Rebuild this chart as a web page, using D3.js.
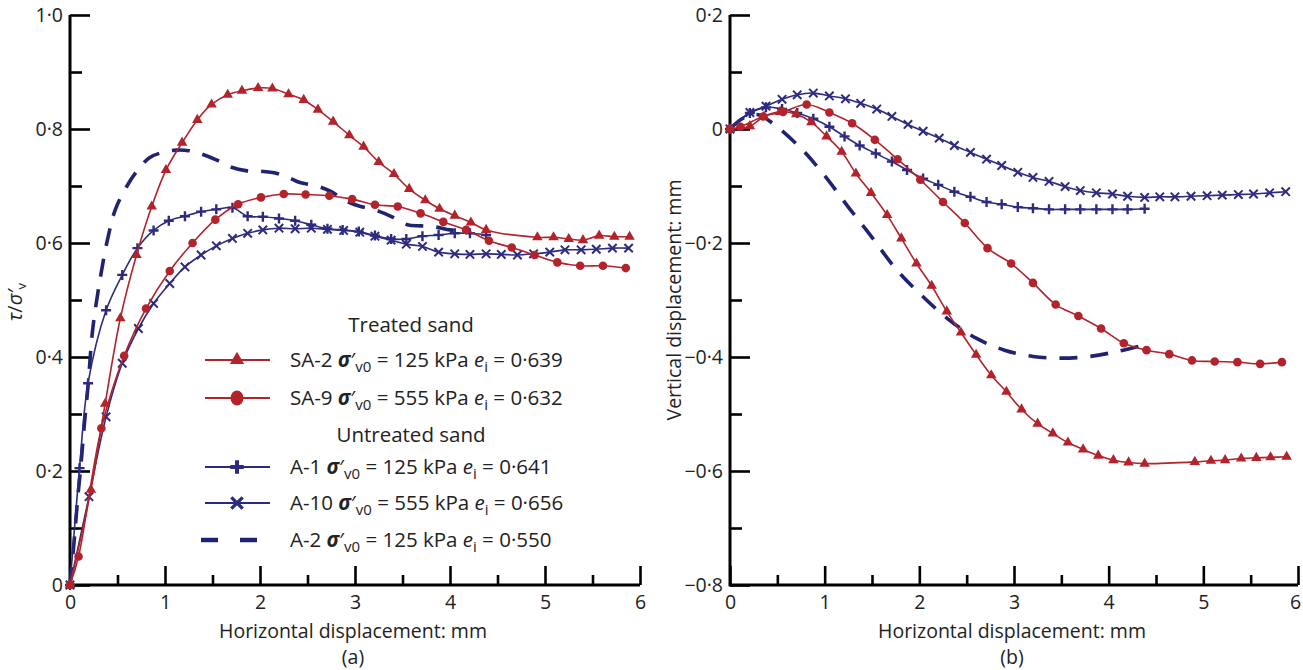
<!DOCTYPE html>
<html>
<head>
<meta charset="utf-8">
<script src="https://cdn.jsdelivr.net/npm/d3@7"></script>
<style>
  body { margin: 0; background: #fff; }
  svg { display: block; font-family: "Open Sans", sans-serif; }
</style>
</head>
<body>
<svg id="chart" width="1303" height="670"></svg>
<script>
// ---- data: [horizontal displacement mm, value] ----
// (a) stress ratio tau/sigma'v
const shearSA2 = [[0,0],[0.22,0.167],[0.37,0.318],[0.53,0.468],[0.70,0.579],[0.86,0.664],[1.01,0.728],[1.18,0.776],[1.34,0.816],[1.49,0.843],[1.66,0.860],[1.81,0.867],[1.98,0.872],[2.13,0.871],[2.30,0.861],[2.46,0.851],[2.61,0.834],[2.77,0.813],[2.94,0.789],[3.09,0.769],[3.25,0.742],[3.41,0.721],[3.57,0.695],[3.74,0.675],[3.89,0.660],[4.05,0.648],[4.22,0.636],[4.38,0.623],[4.92,0.610],[5.09,0.610],[5.25,0.607],[5.40,0.605],[5.57,0.613],[5.73,0.611],[5.89,0.611]];
const shearSA9 = [[0,0],[0.09,0.05],[0.33,0.275],[0.57,0.402],[0.80,0.485],[1.05,0.551],[1.29,0.600],[1.53,0.641],[1.77,0.668],[2.01,0.680],[2.25,0.686],[2.48,0.685],[2.73,0.683],[2.97,0.677],[3.21,0.667],[3.45,0.664],[3.69,0.652],[3.93,0.637],[4.17,0.623],[4.41,0.604],[4.65,0.592],[4.89,0.579],[5.13,0.566],[5.37,0.560],[5.61,0.560],[5.85,0.556]];
const shearA1 = [[0,0],[0.10,0.205],[0.19,0.354],[0.38,0.482],[0.55,0.544],[0.71,0.591],[0.88,0.622],[1.04,0.639],[1.21,0.647],[1.38,0.655],[1.54,0.659],[1.71,0.662],[1.87,0.647],[2.03,0.646],[2.20,0.643],[2.37,0.639],[2.54,0.632],[2.71,0.625],[2.87,0.623],[3.04,0.620],[3.21,0.613],[3.38,0.607],[3.54,0.607],[3.71,0.612],[3.88,0.614],[4.05,0.617],[4.21,0.617],[4.38,0.614]];
const shearA10 = [[0,0],[0.20,0.155],[0.38,0.295],[0.55,0.389],[0.72,0.450],[0.88,0.494],[1.05,0.529],[1.21,0.558],[1.38,0.579],[1.54,0.595],[1.71,0.608],[1.87,0.617],[2.03,0.623],[2.20,0.626],[2.37,0.625],[2.54,0.626],[2.71,0.624],[2.88,0.622],[3.05,0.619],[3.21,0.612],[3.38,0.605],[3.54,0.598],[3.71,0.594],[3.88,0.584],[4.05,0.581],[4.21,0.580],[4.38,0.581],[4.54,0.580],[4.71,0.579],[4.88,0.581],[5.05,0.584],[5.21,0.588],[5.38,0.588],[5.54,0.589],[5.71,0.591],[5.88,0.591]];
const shearA2 = [[0,0],[0.04,0.07],[0.08,0.15],[0.12,0.22],[0.15,0.28],[0.19,0.35],[0.24,0.45],[0.32,0.54],[0.40,0.61],[0.48,0.66],[0.60,0.70],[0.70,0.725],[0.84,0.75],[1.00,0.76],[1.12,0.763],[1.25,0.762],[1.37,0.757],[1.54,0.746],[1.70,0.733],[1.85,0.727],[2.00,0.726],[2.18,0.722],[2.30,0.715],[2.42,0.706],[2.60,0.700],[2.75,0.690],[2.89,0.675],[3.00,0.667],[3.26,0.655],[3.39,0.646],[3.55,0.632],[3.70,0.630],[3.85,0.628],[4.00,0.623],[4.20,0.620]];

// (b) vertical displacement mm
const volSA2 = [[0,0],[0.21,0.005],[0.36,0.022],[0.53,0.030],[0.70,0.026],[0.86,0.012],[1.02,-0.013],[1.18,-0.040],[1.33,-0.078],[1.49,-0.112],[1.66,-0.151],[1.81,-0.192],[1.97,-0.236],[2.13,-0.275],[2.29,-0.320],[2.44,-0.357],[2.60,-0.396],[2.76,-0.432],[2.92,-0.461],[3.08,-0.492],[3.25,-0.517],[3.41,-0.534],[3.57,-0.550],[3.73,-0.562],[3.89,-0.573],[4.05,-0.581],[4.21,-0.585],[4.38,-0.587],[4.91,-0.584],[5.08,-0.582],[5.23,-0.581],[5.40,-0.578],[5.56,-0.577],[5.71,-0.576],[5.88,-0.575]];
const volSA9 = [[0,0],[0.11,0.004],[0.35,0.022],[0.56,0.030],[0.81,0.043],[1.05,0.029],[1.29,0.010],[1.53,-0.019],[1.77,-0.053],[2.01,-0.089],[2.25,-0.128],[2.48,-0.165],[2.72,-0.209],[2.97,-0.236],[3.20,-0.270],[3.44,-0.308],[3.68,-0.328],[3.92,-0.350],[4.16,-0.376],[4.40,-0.388],[4.64,-0.395],[4.88,-0.406],[5.12,-0.408],[5.36,-0.409],[5.60,-0.412],[5.83,-0.409]];
const volA1 = [[0,0],[0.21,0.028],[0.38,0.038],[0.55,0.035],[0.71,0.028],[0.88,0.018],[1.05,0.004],[1.21,-0.013],[1.37,-0.029],[1.54,-0.043],[1.71,-0.057],[1.87,-0.072],[2.04,-0.087],[2.20,-0.098],[2.37,-0.110],[2.54,-0.119],[2.71,-0.128],[2.87,-0.132],[3.04,-0.137],[3.20,-0.139],[3.37,-0.141],[3.54,-0.141],[3.70,-0.141],[3.87,-0.141],[4.04,-0.141],[4.20,-0.141],[4.38,-0.140]];
const volA10 = [[0,0],[0.21,0.029],[0.38,0.040],[0.55,0.052],[0.71,0.060],[0.88,0.063],[1.05,0.058],[1.22,0.053],[1.38,0.045],[1.55,0.035],[1.71,0.022],[1.88,0.008],[2.04,-0.004],[2.21,-0.016],[2.37,-0.029],[2.54,-0.041],[2.71,-0.053],[2.87,-0.064],[3.04,-0.076],[3.20,-0.085],[3.37,-0.092],[3.54,-0.101],[3.70,-0.108],[3.87,-0.112],[4.04,-0.114],[4.20,-0.118],[4.38,-0.120],[4.54,-0.119],[4.70,-0.119],[4.87,-0.118],[5.04,-0.117],[5.20,-0.116],[5.37,-0.115],[5.53,-0.114],[5.70,-0.112],[5.87,-0.110]];
const volA2 = [[0,0],[0.15,0.02],[0.30,0.025],[0.45,0.01],[0.75,-0.034],[1.00,-0.082],[1.25,-0.137],[1.50,-0.190],[1.75,-0.245],[2.00,-0.288],[2.30,-0.333],[2.60,-0.367],[2.90,-0.388],[3.20,-0.399],[3.50,-0.402],[3.80,-0.399],[4.10,-0.390],[4.40,-0.378]];

const xTicks = [0, 1, 2, 3, 4, 5, 6];
const yTicksA = [0, 0.2, 0.4, 0.6, 0.8, 1.0];
const yTicksB = [-0.8, -0.6, -0.4, -0.2, 0, 0.2];

const legendRows = [
  { id: "SA-2", stress: "125", e: "0·639", key: "SA2" },
  { id: "SA-9", stress: "555", e: "0·632", key: "SA9" },
  { id: "A-1", stress: "125", e: "0·641", key: "A1" },
  { id: "A-10", stress: "555", e: "0·656", key: "A10" },
  { id: "A-2", stress: "125", e: "0·550", key: "A2" }
];

const red = "#b3232b";
const blue = "#2c2b80";
const navy = "#1f2372";

const styles = {
  SA2: { color: red, marker: "tri", dashed: false },
  SA9: { color: red, marker: "dot", dashed: false },
  A1: { color: blue, marker: "plus", dashed: false },
  A10: { color: blue, marker: "cross", dashed: false },
  A2: { color: navy, marker: null, dashed: true }
};

const svg = d3.select("#chart");
const fontSize = 19.5;
const legendSize = 20.5;

const fmt = v => Math.abs(v) < 1e-9 ? "0" : d3.format(".1f")(v).replace(".", "·").replace("-", "\u2212");

// draws one marker at origin of sel (a g)
const addMarker = (sel, type, color, big) => {
  const k = big ? 1.35 : 1;
  if (type === "tri") {
    sel.append("path").attr("d", d3.symbol(d3.symbolTriangle).size(48 * k * k)).attr("fill", color);
  } else if (type === "dot") {
    if (big) sel.append("ellipse").attr("rx", 6.5).attr("ry", 7.5).attr("fill", color);
    else sel.append("circle").attr("r", 4.3).attr("fill", color);
  } else if (type === "plus") {
    const s = 5 * k;
    sel.append("path").attr("d", `M${-s},0H${s}M0,${-s}V${s}`)
      .attr("stroke", color).attr("stroke-width", big ? 4 : 2.4).attr("fill", "none");
  } else if (type === "cross") {
    const s = 4.2 * k;
    sel.append("path").attr("d", `M${-s},${-s}L${s},${s}M${-s},${s}L${s},${-s}`)
      .attr("stroke", color).attr("stroke-width", big ? 3.4 : 2).attr("fill", "none");
  }
};

const drawPanel = (cfg) => {
  const x = d3.scaleLinear().domain([0, 6]).range([cfg.left, cfg.left + cfg.width]);
  const y = d3.scaleLinear().domain(cfg.yDomain).range([585, 15]);
  const g = svg.append("g");

  // minor ticks
  const minorX = d3.range(0.5, 6, 1);
  const minorY = d3.range(cfg.yDomain[0] + 0.1, cfg.yDomain[1], 0.2);
  g.append("g").attr("transform", "translate(0,585)")
    .call(d3.axisBottom(x).tickValues(minorX).tickSize(-10).tickSizeOuter(0).tickFormat(""))
    .call(a => a.select(".domain").remove());
  g.append("g").attr("transform", `translate(${cfg.left},0)`)
    .call(d3.axisLeft(y).tickValues(minorY).tickSize(-12).tickSizeOuter(0).tickFormat(""))
    .call(a => a.select(".domain").remove());

  // major ticks + labels
  g.append("g").attr("class", "xmajor").attr("transform", "translate(0,585)")
    .call(d3.axisBottom(x).tickValues(xTicks).tickSize(-19).tickSizeOuter(0).tickPadding(10).tickFormat(d => d))
    .call(a => a.select(".domain").remove());
  g.append("g").attr("transform", `translate(${cfg.left},0)`)
    .call(d3.axisLeft(y).tickValues(cfg.yTicks).tickSize(-20).tickSizeOuter(0).tickPadding(7).tickFormat(fmt))
    .call(a => a.select(".domain").remove());

  g.selectAll(".tick line").attr("stroke", "#000").attr("stroke-width", 2.6);
  g.selectAll(".tick text").attr("font-size", fontSize).attr("font-family", "Open Sans").attr("fill", "#222");
  if (cfg.lastDx) g.selectAll(".xmajor .tick:last-of-type text").attr("dx", cfg.lastDx);

  // axis frame
  g.append("path")
    .attr("d", `M${x(0)},${y(cfg.yDomain[1])}V${y(cfg.yDomain[0])}H${x(6)}`)
    .attr("fill", "none").attr("stroke", "#000").attr("stroke-width", 3);

  // series
  const line = d3.line().x(d => x(d[0])).y(d => y(d[1])).curve(d3.curveCatmullRom.alpha(0.5));
  cfg.series.forEach(s => {
    const st = styles[s.key];
    g.append("path").datum(s.data)
      .attr("d", line)
      .attr("fill", "none")
      .attr("stroke", st.color)
      .attr("stroke-width", st.dashed ? 3.6 : 1.6)
      .attr("stroke-dasharray", st.dashed ? "18,13" : null);
    if (st.marker) {
      g.append("g").selectAll("g").data(s.data).join("g")
        .attr("transform", d => `translate(${x(d[0])},${y(d[1])})`)
        .each(function () { addMarker(d3.select(this), st.marker, st.color, false); });
    }
  });

  // axis titles
  const cx = cfg.left + cfg.width / 2 - 2;
  g.append("text").attr("x", cx).attr("y", 638)
    .attr("text-anchor", "middle").attr("font-size", fontSize).attr("fill", "#222")
    .text("Horizontal displacement: mm");
  g.append("text").attr("x", cx).attr("y", 664)
    .attr("text-anchor", "middle").attr("font-size", fontSize).attr("fill", "#222")
    .text(cfg.tag);

  return g;
};

const panelA = drawPanel({
  left: 70, width: 570, yDomain: [0, 1], yTicks: yTicksA, tag: "(a)",
  series: [
    { key: "A2", data: shearA2 },
    { key: "A10", data: shearA10 },
    { key: "A1", data: shearA1 },
    { key: "SA9", data: shearSA9 },
    { key: "SA2", data: shearSA2 }
  ]
});

const panelB = drawPanel({
  left: 730, width: 568, yDomain: [-0.8, 0.2], yTicks: yTicksB, tag: "(b)", lastDx: -3,
  series: [
    { key: "A2", data: volA2 },
    { key: "A10", data: volA10 },
    { key: "A1", data: volA1 },
    { key: "SA9", data: volSA9 },
    { key: "SA2", data: volSA2 }
  ]
});

// y titles
const yt = svg.append("text").attr("transform", "translate(22,302) rotate(-90)")
  .attr("text-anchor", "middle").attr("font-size", 20).attr("fill", "#222");
yt.append("tspan").attr("font-style", "italic").text("\u03c4");
yt.append("tspan").text("/");
yt.append("tspan").attr("font-style", "italic").text("\u03c3\u2032");
yt.append("tspan").attr("font-size", 13).attr("dy", 4).text("v");

svg.append("text").attr("transform", "translate(681,300) rotate(-90)")
  .attr("text-anchor", "middle").attr("font-size", fontSize).attr("fill", "#222")
  .text("Vertical displacement: mm");

// legend
const leg = svg.append("g").attr("font-size", legendSize).attr("fill", "#222");
leg.append("text").attr("x", 411).attr("y", 332).attr("text-anchor", "middle").text("Treated sand");
leg.append("text").attr("x", 411).attr("y", 442).attr("text-anchor", "middle").text("Untreated sand");
const rowY = [360, 398, 467, 503, 540];

legendRows.forEach((r, i) => {
  const st = styles[r.key];
  const yy = rowY[i];
  if (st.dashed) {
    leg.append("path").attr("d", `M201,${yy}H258`).attr("stroke", st.color)
      .attr("stroke-width", 4.5).attr("stroke-dasharray", "17,22").attr("fill", "none");
  } else {
    leg.append("path").attr("d", `M205,${yy}H270`).attr("stroke", st.color)
      .attr("stroke-width", 1.8).attr("fill", "none");
    const mg = leg.append("g").attr("transform", `translate(237,${yy})`);
    addMarker(mg, st.marker, st.color, true);
  }
  const t = leg.append("text").attr("x", 290).attr("y", yy + 7);
  t.append("tspan").text(r.id + " ");
  t.append("tspan").attr("font-style", "italic").attr("font-weight", "bold").text("\u03c3");
  t.append("tspan").text("\u2032");
  t.append("tspan").attr("font-size", 15).attr("dy", 5).text("v0");
  t.append("tspan").attr("dy", -5).text(` = ${r.stress} kPa `);
  t.append("tspan").attr("font-style", "italic").text("e");
  t.append("tspan").attr("font-size", 15).attr("dy", 5).text("i");
  t.append("tspan").attr("dy", -5).text(` = ${r.e}`);
});
</script>
</body>
</html>
